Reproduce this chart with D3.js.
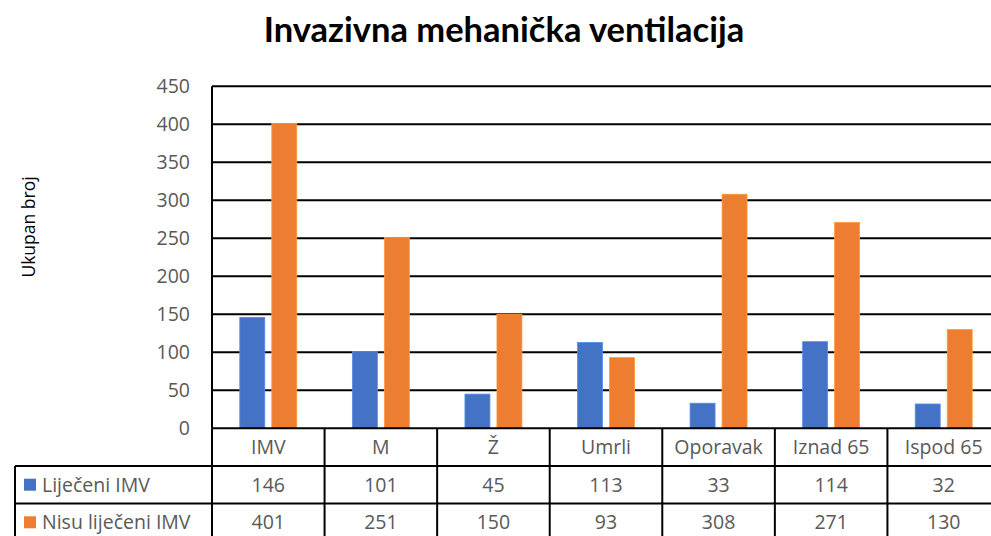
<!DOCTYPE html>
<html>
<head>
<meta charset="utf-8">
<script src="https://cdn.jsdelivr.net/npm/d3@7"></script>
<style>
  html, body { margin: 0; padding: 0; background: #fff; overflow: hidden; }
  svg { display: block; font-family: "Open Sans", Lato, sans-serif; }
</style>
</head>
<body>
<svg id="chart" width="991" height="536"></svg>
<script>
// Patients on invasive mechanical ventilation, by group
const categories = ["IMV", "M", "Ž", "Umrli", "Oporavak", "Iznad 65", "Ispod 65"];
const seriesNames = ["Liječeni IMV", "Nisu liječeni IMV"];
const treated = [146, 101, 45, 113, 33, 114, 32];
const notTreated = [401, 251, 150, 93, 308, 271, 130];
const yTicks = [0, 50, 100, 150, 200, 250, 300, 350, 400, 450];
const colors = ["#4472C4", "#ED7D31"];

const chartTitle = "Invazivna mehanička ventilacija";
const yTitle = "Ukupan broj";

const series = [treated, notTreated];

const svg = d3.select("#chart");
const plotLeft = 212, plotRight = 1000, plotTop = 86.3, plotBottom = 428.3;
const rowH = 37.6;
const tableLeft = 15;
const textColor = "#595959";
const fontSize = 19.5;
const bodyFont = "'Open Sans', Lato, sans-serif";

const x = d3.scaleBand().domain(categories).range([plotLeft, plotRight]).paddingInner(0).paddingOuter(0);
const xs = d3.scaleBand().domain(seriesNames).range([0, x.bandwidth()])
  .paddingInner(0.219).paddingOuter(0.869);
const y = d3.scaleLinear().domain([0, 450]).range([plotBottom, plotTop]);

// Title
svg.append("text")
  .attr("x", 504).attr("y", 42)
  .attr("text-anchor", "middle")
  .attr("font-family", "Lato, 'Open Sans', sans-serif")
  .attr("font-weight", "bold")
  .attr("font-size", 34.5)
  .attr("fill", "#000")
  .text(chartTitle);

// Y axis title
svg.append("text")
  .attr("transform", `translate(35,227) rotate(-90)`)
  .attr("text-anchor", "middle")
  .attr("font-size", 17.5)
  .attr("fill", "#000")
  .text(yTitle);

// Gridlines
svg.append("g").selectAll("line").data(yTicks.filter(d => d > 0)).join("line")
  .attr("x1", plotLeft).attr("x2", plotRight)
  .attr("y1", d => y(d)).attr("y2", d => y(d))
  .attr("stroke", "#000").attr("stroke-width", 2);

// Y axis with tick labels
const yAxis = d3.axisLeft(y).tickValues(yTicks).tickSize(0).tickPadding(22);
const gy = svg.append("g").attr("transform", `translate(${plotLeft},0)`).call(yAxis);
gy.select(".domain").remove();
gy.selectAll("text").attr("font-size", fontSize).attr("fill", textColor)
  .attr("font-family", bodyFont);

svg.append("line")
  .attr("x1", plotLeft).attr("x2", plotLeft).attr("y1", plotTop).attr("y2", plotBottom)
  .attr("stroke", "#000").attr("stroke-width", 2);

// Bars
series.forEach((vals, si) => {
  svg.append("g").selectAll("rect").data(categories).join("rect")
    .attr("x", (c) => x(c) + xs(seriesNames[si]))
    .attr("width", xs.bandwidth())
    .attr("y", (c, i) => y(vals[i]))
    .attr("height", (c, i) => plotBottom - y(vals[i]))
    .attr("fill", colors[si])
    .attr("stroke", d3.color(colors[si]).brighter(0.6))
    .attr("stroke-width", 0.8);
});

// Data table
const table = svg.append("g");
const hLines = [
  { y: plotBottom, x1: plotLeft },
  { y: plotBottom + rowH, x1: tableLeft },
  { y: plotBottom + 2 * rowH, x1: tableLeft },
  { y: plotBottom + 3 * rowH, x1: tableLeft }
];
table.selectAll("line.h").data(hLines).join("line").attr("class", "h")
  .attr("x1", d => d.x1).attr("x2", plotRight)
  .attr("y1", d => d.y).attr("y2", d => d.y)
  .attr("stroke", "#000").attr("stroke-width", 2);

const vBounds = categories.map(c => x(c)).concat([plotRight]);
table.selectAll("line.v").data(vBounds).join("line").attr("class", "v")
  .attr("x1", d => d).attr("x2", d => d)
  .attr("y1", plotBottom).attr("y2", plotBottom + 3 * rowH)
  .attr("stroke", "#000").attr("stroke-width", 2);
table.append("line")
  .attr("x1", tableLeft).attr("x2", tableLeft)
  .attr("y1", plotBottom + rowH).attr("y2", plotBottom + 3 * rowH)
  .attr("stroke", "#000").attr("stroke-width", 2);

// Category header row
table.selectAll("text.cat").data(categories).join("text").attr("class", "cat")
  .attr("x", c => x(c) + x.bandwidth() / 2)
  .attr("y", plotBottom + rowH / 2 + 7)
  .attr("text-anchor", "middle")
  .attr("font-size", fontSize).attr("fill", textColor)
  .text(c => c);

// Value rows with legend keys
series.forEach((vals, si) => {
  const rowY = plotBottom + rowH * (si + 1);
  table.append("rect")
    .attr("x", 24).attr("y", rowY + rowH / 2 - 6)
    .attr("width", 12).attr("height", 12)
    .attr("fill", colors[si]);
  table.append("text")
    .attr("x", 42).attr("y", rowY + rowH / 2 + 7)
    .attr("font-size", fontSize).attr("fill", textColor)
    .text(seriesNames[si]);
  table.append("g").selectAll("text").data(categories).join("text")
    .attr("x", c => x(c) + x.bandwidth() / 2)
    .attr("y", rowY + rowH / 2 + 7)
    .attr("text-anchor", "middle")
    .attr("font-size", fontSize).attr("fill", textColor)
    .text((c, i) => vals[i]);
});
</script>
</body>
</html>
